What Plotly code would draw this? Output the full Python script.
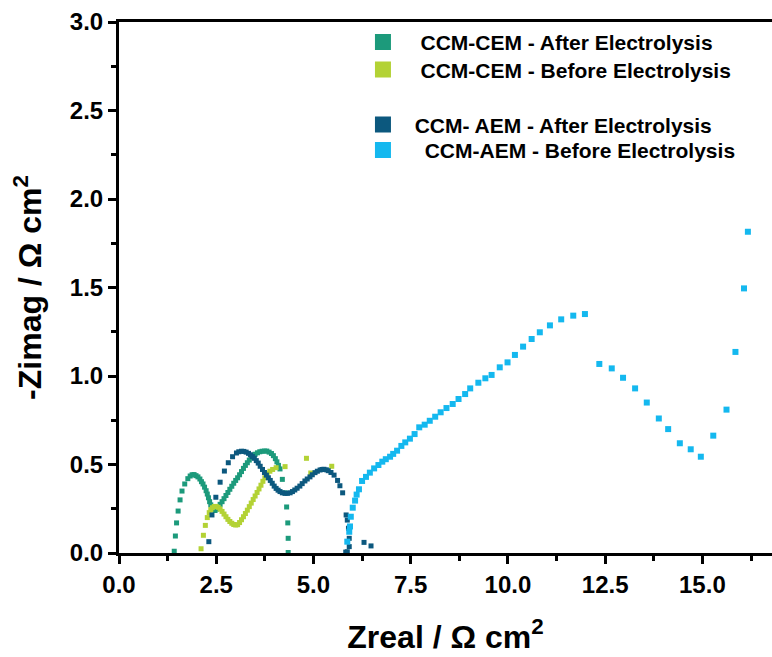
import plotly.graph_objects as go

# CCM-CEM - After Electrolysis
cem_after_x = [1.42, 1.45, 1.48, 1.52, 1.57, 1.62, 1.69, 1.77,
               1.83, 1.88, 1.93, 1.98, 2.03, 2.08, 2.12, 2.16, 2.20, 2.24, 2.27, 2.30, 2.33, 2.36, 2.39, 2.43, 2.47,
               2.51, 2.55, 2.60, 2.65, 2.70, 2.75, 2.80, 2.85, 2.90, 2.95, 3.00, 3.05, 3.10, 3.15, 3.20, 3.25, 3.30,
               3.35, 3.40, 3.45, 3.50, 3.56, 3.62, 3.68, 3.74, 3.80, 3.86, 3.92, 3.97, 4.02, 4.06, 4.10, 4.14,
               4.20, 4.27, 4.31, 4.34, 4.35, 4.35]
cem_after_y = [0.01, 0.096, 0.17, 0.237, 0.30, 0.35, 0.39, 0.42,
               0.435, 0.442, 0.443, 0.437, 0.43, 0.418, 0.403, 0.39, 0.372, 0.352, 0.333, 0.312, 0.29, 0.272, 0.256, 0.245, 0.24,
               0.248, 0.26, 0.275, 0.29, 0.307, 0.325, 0.342, 0.36, 0.377, 0.394, 0.41, 0.425, 0.442, 0.46, 0.478, 0.495, 0.51,
               0.525, 0.54, 0.55, 0.558, 0.566, 0.572, 0.575, 0.576, 0.576, 0.57, 0.562, 0.55, 0.533, 0.515, 0.495, 0.475,
               0.416, 0.34, 0.26, 0.17, 0.083, 0.003]

# CCM-CEM - Before Electrolysis
cem_before_x = [2.11, 2.17, 2.22, 2.27, 2.32,
                2.36, 2.40, 2.45, 2.50, 2.55, 2.60, 2.65, 2.70, 2.75, 2.80, 2.85, 2.90, 2.95, 3.00, 3.05, 3.10, 3.15,
                3.20, 3.25, 3.30, 3.35, 3.40, 3.45, 3.50, 3.55, 3.60, 3.65, 3.70, 3.75, 3.81, 3.88, 3.95, 4.04,
                4.27, 4.82, 4.93, 5.47]
cem_before_y = [0.024, 0.10, 0.156, 0.20, 0.228,
                0.245, 0.256, 0.263, 0.263, 0.258, 0.248, 0.235, 0.22, 0.205, 0.19, 0.178, 0.168, 0.161, 0.158, 0.16, 0.172, 0.188,
                0.205, 0.223, 0.242, 0.262, 0.282, 0.302, 0.322, 0.342, 0.362, 0.383, 0.405, 0.425, 0.45, 0.462, 0.472, 0.482,
                0.488, 0.535, 0.452, 0.49]

# CCM- AEM - After Electrolysis
aem_after_x = [2.31, 2.39, 2.49, 2.60, 2.71, 2.81, 2.92,
               3.02, 3.08, 3.15, 3.21, 3.27, 3.33, 3.38, 3.43, 3.48, 3.53, 3.58, 3.63, 3.69, 3.74, 3.79, 3.84, 3.89,
               3.94, 3.99, 4.04, 4.09, 4.14, 4.20, 4.27, 4.33, 4.40, 4.46, 4.52, 4.58, 4.65, 4.71, 4.78, 4.84, 4.91,
               4.97, 5.04, 5.10, 5.17, 5.22, 5.27, 5.33, 5.38,
               5.45, 5.53, 5.62, 5.68, 5.75, 5.84, 5.87, 5.90, 5.92, 5.92, 5.87, 5.83,
               6.30, 6.48]
aem_after_y = [0.064, 0.215, 0.315, 0.40, 0.463, 0.51, 0.544,
               0.565, 0.572, 0.575, 0.574, 0.57, 0.563, 0.555, 0.545, 0.535, 0.522, 0.508, 0.49, 0.472, 0.455, 0.44, 0.425, 0.41,
               0.394, 0.378, 0.365, 0.355, 0.347, 0.34, 0.337, 0.337, 0.34, 0.347, 0.356, 0.366, 0.378, 0.392, 0.407, 0.418, 0.43,
               0.442, 0.454, 0.462, 0.469, 0.472, 0.473, 0.47, 0.465,
               0.455, 0.44, 0.41, 0.38, 0.34, 0.215, 0.186, 0.14, 0.083, 0.036, 0.007, 0.005,
               0.06, 0.04]

# CCM-AEM - Before Electrolysis
aem_before_x = [5.87, 5.92, 5.94, 5.96, 6.01, 6.07, 6.11, 6.17, 6.25, 6.35, 6.45, 6.56, 6.67, 6.77, 6.86, 6.97,
                7.05, 7.15, 7.26, 7.36, 7.48, 7.60, 7.72, 7.86, 7.99, 8.13, 8.27, 8.42, 8.58, 8.73, 8.90, 9.03,
                9.24, 9.42, 9.58, 9.79, 9.99, 10.18, 10.39, 10.61, 10.82, 11.08, 11.37, 11.68, 11.98,
                12.35, 12.67, 12.96, 13.27, 13.57, 13.88, 14.12, 14.42, 14.70, 14.96, 15.28, 15.62, 15.85, 16.07, 16.17]
aem_before_y = [0.064, 0.12, 0.15, 0.205, 0.256, 0.296, 0.33, 0.36, 0.407, 0.43, 0.454, 0.478, 0.497, 0.516, 0.53, 0.544,
                0.56, 0.578, 0.605, 0.625, 0.646, 0.672, 0.71, 0.725, 0.747, 0.77, 0.795, 0.819, 0.842, 0.87, 0.898, 0.93,
                0.962, 0.987, 1.006, 1.049, 1.077, 1.119, 1.166, 1.209, 1.247, 1.286, 1.32, 1.341, 1.35,
                1.068, 1.043, 0.99, 0.93, 0.85, 0.76, 0.70, 0.62, 0.586, 0.544, 0.663, 0.81, 1.136, 1.495, 1.815]

x_ticks = [0.0, 2.5, 5.0, 7.5, 10.0, 12.5, 15.0]
y_ticks = [0.0, 0.5, 1.0, 1.5, 2.0, 2.5, 3.0]

NB = "\u00a0"
series = [
    (NB * 3 + "CCM-CEM - After Electrolysis", cem_after_x, cem_after_y, "#1c9a7b", "legend", 5),
    (NB * 3 + "CCM-CEM - Before Electrolysis", cem_before_x, cem_before_y, "#b3d235", "legend2", 5),
    (NB * 2 + "CCM- AEM - After Electrolysis", aem_after_x, aem_after_y, "#0c587e", "legend3", 5),
    (NB * 3 + "\u2009CCM-AEM - Before Electrolysis", aem_before_x, aem_before_y, "#14b8ef", "legend4", 6),
]

FONT = "Liberation Sans, Arial, sans-serif"

fig = go.Figure()
for name, xs, ys, col, lg, sz in series:
    fig.add_trace(go.Scatter(
        x=xs, y=ys, mode="markers", name=name, showlegend=False,
        marker=dict(symbol="square", size=sz, color=col, line=dict(width=0)),
    ))
for name, xs, ys, col, lg, sz in series:
    fig.add_trace(go.Scatter(
        x=[None], y=[None], mode="markers", name="<b>" + name + "</b>", showlegend=True, legend=lg,
        marker=dict(symbol="square", size=19, color=col, line=dict(width=0)),
    ))

legend_font = dict(family=FONT, size=21, color="black")
row_y = {"legend": 1.0004, "legend2": 0.9486, "legend3": 0.8450, "legend4": 0.7970}
legends = {}
for key, yv in row_y.items():
    legends[key] = dict(x=0.3736, y=yv, xanchor="left", yanchor="top",
                        bgcolor="rgba(0,0,0,0)", borderwidth=0, font=legend_font,
                        itemsizing="trace")

fig.update_layout(
    width=772, height=657,
    margin=dict(l=119, r=0, t=22, b=104),
    paper_bgcolor="white", plot_bgcolor="white",
    font=dict(family=FONT, color="black", size=21),
    showlegend=True,
    **legends,
    xaxis=dict(
        range=[0, 16.79], showgrid=False, zeroline=False,
        showline=True, linecolor="black", linewidth=3, mirror=True,
        ticks="outside", ticklen=8, tickwidth=3, tickcolor="black",
        tickvals=x_ticks, ticktext=["<b>%.1f</b>" % v for v in x_ticks],
        tickfont=dict(family=FONT, size=24, color="black", weight="bold"),
        minor=dict(ticks="outside", ticklen=5, tickwidth=3, tickcolor="black", dtick=1.25, tick0=0),
        title=dict(text="<b>Zreal / Ω cm<sup>2</sup></b>", standoff=29,
                   font=dict(family=FONT, size=32, color="black")),
    ),
    yaxis=dict(
        range=[0, 3.0], showgrid=False, zeroline=False,
        showline=True, linecolor="black", linewidth=3,
        ticks="outside", ticklen=8, tickwidth=3, tickcolor="black",
        tickvals=y_ticks, ticktext=["<b>%.1f</b>" % v for v in y_ticks],
        tickfont=dict(family=FONT, size=24, color="black", weight="bold"),
        minor=dict(ticks="outside", ticklen=5, tickwidth=3, tickcolor="black", dtick=0.25, tick0=0),
        title=dict(text="<b>-Zimag / Ω cm<sup>2</sup></b>", standoff=19,
                   font=dict(family=FONT, size=32, color="black")),
    ),
)

fig.write_html("out.html")
